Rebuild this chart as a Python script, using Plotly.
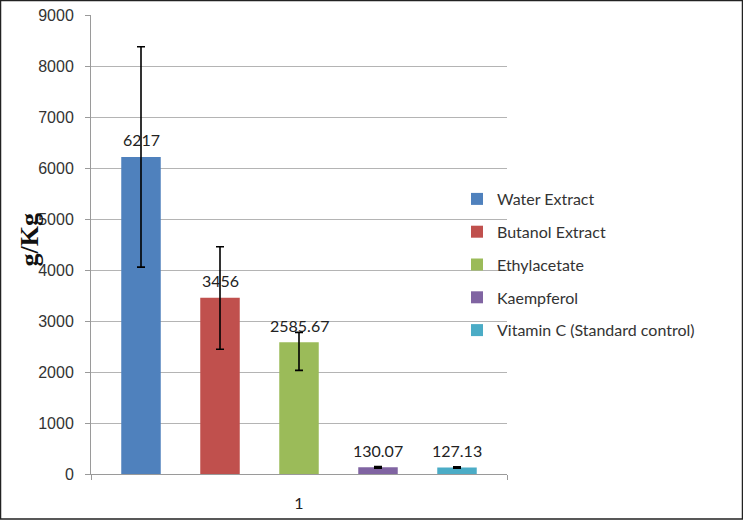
import plotly.graph_objects as go

series = ["Water Extract", "Butanol Extract", "Ethylacetate", "Kaempferol", "Vitamin C (Standard control)"]
values = [6217, 3456, 2585.67, 130.07, 127.13]
labels = ["6217", "3456", "2585.67", "130.07", "127.13"]
err_plus = [2160, 1000, 192, 15, 12]
err_minus = [2160, 1010, 553, 15, 12]
colors = ["#4F81BD", "#C0504D", "#9BBB59", "#8064A2", "#4BACC6"]
category = "1"
y_ticks = [0, 1000, 2000, 3000, 4000, 5000, 6000, 7000, 8000, 9000]

W, H = 743, 520
L, R, T, B = 91, 236, 15, 46
pw, ph = W - L - R, H - T - B

fig = go.Figure()
for i, (s, v, ep, em, c) in enumerate(zip(series, values, err_plus, err_minus, colors)):
    fig.add_trace(go.Bar(
        x=[i], y=[v], name=s, marker=dict(color=c, line=dict(width=0)),
        width=0.5, legendgroup=s,
        error_y=dict(type="data", symmetric=False, array=[ep], arrayminus=[em],
                     color="#000000", thickness=1.6, width=4),
    ))

annotations = []
for i, (v, t) in enumerate(zip(values, labels)):
    annotations.append(dict(x=i, y=v, xref="x", yref="y", text=t, showarrow=False,
                            yshift=17, font=dict(family="Lato, Liberation Sans", size=16, color="#222")))
annotations.append(dict(x=(12 - L) / pw, y=(H - 240 - B) / ph, xref="paper", yref="paper",
                        text="<b>g/Kg</b>", textangle=-90, showarrow=False,
                        font=dict(family="Liberation Serif, Times New Roman", size=26, color="#111")))

n = len(values)
half = (pw / 79) / 2
xr = [(n - 1) / 2 - half, (n - 1) / 2 + half]

fig.update_layout(
    width=W, height=H, margin=dict(l=L, r=R, t=T, b=B, pad=0, autoexpand=False),
    paper_bgcolor="white", plot_bgcolor="white",
    barmode="overlay", showlegend=True,
    legend=dict(x=(457 - L) / pw, y=(474 - 182) / ph, xanchor="left", yanchor="top",
                bgcolor="rgba(0,0,0,0)", tracegroupgap=9,
                font=dict(family="Lato, Liberation Sans", size=16, color="#333")),
    annotations=annotations,
    shapes=[dict(type="rect", xref="paper", yref="paper",
                 x0=(0.5 - L) / pw, x1=(W - 0.5 - L) / pw,
                 y0=(H - B - (H - 1)) / ph, y1=(H - B - 0.5) / ph,
                 line=dict(color="#222", width=1.5), layer="above")],
)
fig.update_xaxes(range=xr, tickvals=[(n - 1) / 2], ticktext=[category], ticks="",
                 showgrid=False, zeroline=False, showline=True, linecolor="#9a9a9a", linewidth=1,
                 ticklabelstandoff=15,
                 tickfont=dict(family="Lato, Liberation Sans", size=16, color="#222"),
                 minor=dict(tickvals=xr, ticks="outside", ticklen=5, tickcolor="#9a9a9a", showgrid=False))
fig.update_yaxes(range=[0, 9000], tickvals=y_ticks, ticks="outside", ticklen=5, tickcolor="#9a9a9a",
                 showgrid=True, gridcolor="#b4b4b4", gridwidth=1, zeroline=False,
                 showline=True, linecolor="#9a9a9a", linewidth=1, ticklabelstandoff=8,
                 tickfont=dict(family="Liberation Sans, Arial", size=16, color="#333"))

post = ("var s=document.documentElement.style;s.margin='0';s.padding='0';s.overflow='hidden';"
        "var b=document.body.style;b.margin='0';b.padding='0';b.overflow='hidden';b.height='520px';")
fig.write_html("out.html", config={"displayModeBar": False, "responsive": False}, post_script=post)
